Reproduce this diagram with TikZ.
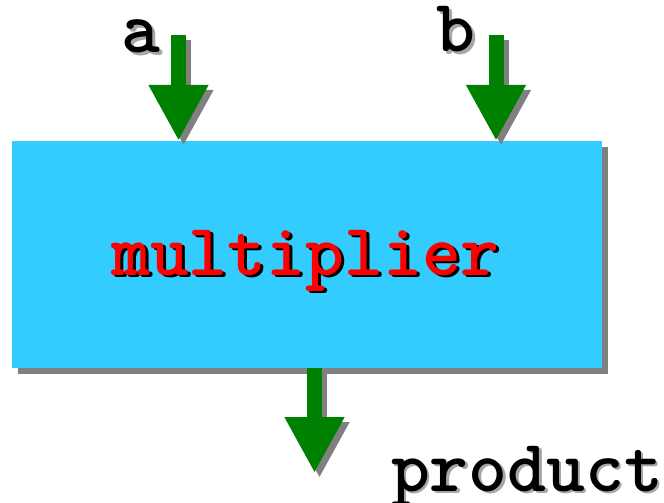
\documentclass[tikz,border=0pt]{standalone}
\usepackage{fontspec}
\usetikzlibrary{arrows.meta,positioning,shadows}
\definecolor{unitBlue}{RGB}{51,204,255}
\definecolor{wireGreen}{RGB}{0,128,0}
\definecolor{shadeGrey}{RGB}{128,128,128}
\definecolor{nameRed}{RGB}{255,0,0}
\tikzset{
  unitbox/.style={fill=unitBlue, minimum width=590pt, minimum height=227pt, inner sep=0pt,
    drop shadow={shadow xshift=6pt, shadow yshift=-6pt, fill=shadeGrey, opacity=1}},
  bigtext/.style={font=\ttfamily\bfseries\fontsize{74}{74}\selectfont, inner sep=0pt, anchor=base},
  sigtext/.style={bigtext, text=black},
  sigshade/.style={bigtext, text=shadeGrey!70},
  unittext/.style={bigtext, text=nameRed},
  unitshade/.style={bigtext, text=black},
  busflow/.style={line width=15pt, -{Triangle[length=56pt, width=56pt]}, draw=wireGreen},
  busshade/.style={busflow, draw=shadeGrey, transform canvas={shift={(5pt,-5pt)}}}
}

\begin{document}
\begin{tikzpicture}[x=1pt, y=-1pt]
  \useasboundingbox (0,0) rectangle (664,503);
  % multiplier block
  \node[unitbox] (mult) at (307,254.5) {};
  \node[unitshade] (multShade) at (308.5,277.5) {multiplier};
  \node[unittext] (multName) at (305.5,275) {multiplier};
  % inputs
  \coordinate (aIn) at (178.5,35);
  \coordinate (bIn) at (496,35);
  \coordinate (pOut) at (314.5,473);
  \draw[busshade] (aIn) -- (aIn |- mult.north);
  \draw[busflow] (aIn) -- (aIn |- mult.north);
  \draw[busshade] (bIn) -- (bIn |- mult.north);
  \draw[busflow] (bIn) -- (bIn |- mult.north);
  % output
  \draw[busshade] (pOut |- mult.south) -- (pOut);
  \draw[busflow] (pOut |- mult.south) -- (pOut);
  % port names
  \node[sigshade] (aShade) at (143.5,55.5) {a};
  \node[sigtext] (aName) at (141,53) {a};
  \node[sigshade] (bShade) at (458.5,54.5) {b};
  \node[sigtext] (bName) at (456,52) {b};
  \node[sigshade] (pShade) at (529.5,493.5) {product};
  \node[sigtext] (pName) at (527,491) {product};
\end{tikzpicture}
\end{document}
